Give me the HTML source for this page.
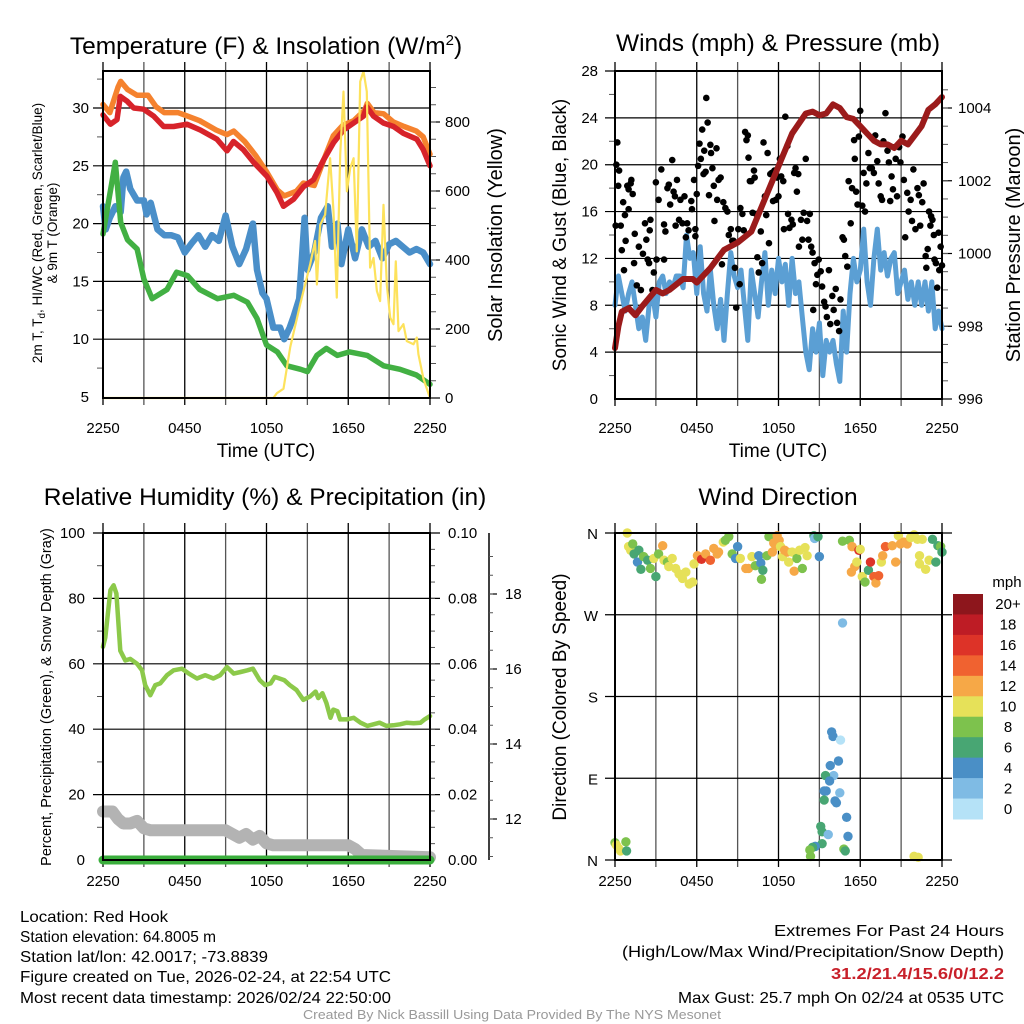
<!DOCTYPE html>
<html><head><meta charset="utf-8"><style>
html,body{margin:0;padding:0;background:#fff}
svg{display:block;font-family:"Liberation Sans",sans-serif}
</style></head><body>
<svg id="s" width="1024" height="1024" viewBox="0 0 1024 1024" xmlns="http://www.w3.org/2000/svg">
<g id="gTemp"></g>
<g id="gWind"></g>
<g id="gRH"></g>
<g id="gDir"></g>
<g font-size="16" fill="#000">
<text x="20" y="922" textLength="148" lengthAdjust="spacingAndGlyphs">Location: Red Hook</text>
<text x="20" y="942" textLength="196" lengthAdjust="spacingAndGlyphs">Station elevation: 64.8005 m</text>
<text x="20" y="962" textLength="248" lengthAdjust="spacingAndGlyphs">Station lat/lon: 42.0017; -73.8839</text>
<text x="20" y="982" textLength="371" lengthAdjust="spacingAndGlyphs">Figure created on Tue, 2026-02-24, at 22:54 UTC</text>
<text x="20" y="1003" textLength="371" lengthAdjust="spacingAndGlyphs">Most recent data timestamp: 2026/02/24 22:50:00</text>
</g>
<g font-size="16" fill="#000">
<text x="774" y="936" textLength="230" lengthAdjust="spacingAndGlyphs">Extremes For Past 24 Hours</text>
<text x="622" y="957" textLength="382" lengthAdjust="spacingAndGlyphs">(High/Low/Max Wind/Precipitation/Snow Depth)</text>
<text x="831" y="979" textLength="173" lengthAdjust="spacingAndGlyphs" fill="#c8202a" font-weight="bold">31.2/21.4/15.6/0/12.2</text>
<text x="678" y="1003" textLength="326" lengthAdjust="spacingAndGlyphs">Max Gust: 25.7 mph On 02/24 at 0535 UTC</text>
</g>
<text x="303" y="1019" textLength="418" lengthAdjust="spacingAndGlyphs" font-size="12.5" fill="#999">Created By Nick Bassill Using Data Provided By The NYS Mesonet</text>
</svg>
<script>
// ---------- DATA ----------
const xTickLabels = ["2250","0450","1050","1650","2250"];
// Temperature panel
const tRedT = [0,0.54,1.03,1.27,1.76,2.25,2.98,3.72,4.45,5.18,6.16,7.14,8.36,9.1,9.58,10.3,11.05,12.03,12.76,13.25,13.98,14.72,15.45,16.18,16.92,17.65,18.39,19.12,19.36,19.85,20.58,21.32,22.05,23.03,23.5,24];
const redT = [29.4,28.6,29,31,30.6,30,29.9,29.3,28.4,28.4,28.6,28.1,27.3,26.3,27.1,26.4,25.3,24.1,22.7,21.5,22.1,23.2,23.8,25.5,27,28.1,28.7,29.3,30.1,29.3,28.7,28.4,27.8,27.3,26.4,25];
const tOrange = [0,0.5,1.1,1.3,1.8,2.5,3.3,3.9,4.5,5.5,6.2,7.1,8.3,9.1,9.6,10.4,11.2,12,12.8,13.3,14.2,14.7,15.5,16.2,16.9,17.6,18.4,19.2,19.4,19.9,20.6,21.3,22.1,23,23.5,24];
const orangeT = [30.3,29.6,31.8,32.3,31.6,31.1,31.1,30.1,29.6,29.6,29.3,28.9,28.1,27.7,28,27.1,25.9,24.5,22.9,22.4,22.8,23.5,23.3,25.5,27.6,28.5,28.9,29.8,30.4,29.6,29.5,28.8,28.4,28,27.5,26];
const tDew = [0,0.9,1.3,1.8,2.5,3,3.6,4.7,5.4,6.2,7.1,8.4,9.6,10.6,11.3,12,12.8,13.5,14.5,15,15.7,16.4,17.2,18.1,19.4,20.6,21.8,23,24];
const dewT = [19.1,25.3,20.1,18.6,17.8,15.2,13.5,14.3,15.8,15.5,14.3,13.5,13.8,13.2,11.8,9.5,8.9,7.7,7.4,7.2,8.6,9.2,8.6,8.9,8.6,7.7,7.4,6.9,6.1];
const tChill = [0,0.2,0.5,0.9,1.3,1.5,1.7,2,2.5,3,3.2,3.5,4,4.5,5,5.5,6,6.5,7,7.5,8,8.5,9,9.5,10,10.5,11,11.3,11.7,12,12.5,13,13.3,13.7,14,14.4,14.8,15,15.5,16,16.5,16.8,17.2,17.5,18,18.5,19,19.5,20,20.5,21,21.5,22,22.5,23,23.5,24];
const chillT = [21.5,19.5,20.5,21.5,21,24,24.5,23,22,22,20.8,21.8,19.5,19,19,18.8,17.5,18.3,19,18,19,18.5,20.7,18,16.5,17.8,20,16,14,13.5,11,11,10,11,12,13.5,20.5,16,17.5,20.5,21.5,18,20,16.5,19.5,17,19.5,18,18.5,17,18.2,18.5,18,17.5,17.8,17.5,16.5];
const tSolar = [0,12.5,12.76,13.25,13.74,14.47,15.21,15.57,15.7,15.94,16.3,16.67,16.92,17.16,17.41,17.65,17.9,18.14,18.39,18.63,18.88,19.12,19.36,19.6,19.85,20.1,20.34,20.59,20.83,21.08,21.32,21.49,21.69,22.05,22.3,22.79,23.03,23.15,23.52,24];
const solar = [0,0,14,27,147,272,388,455,329,502,531,695,541,291,705,888,599,666,695,425,917,947,888,378,406,310,281,560,329,233,214,396,194,214,165,156,175,127,55,0];
// Wind panel
const tPres = [0,0.25,0.5,1,1.5,2,3,3.5,4,5,5.7,6,7,8,9,10,11,12,13,14,14.5,15,15.5,16,16.5,17,17.5,18,18.5,19,19.5,20,20.5,21,21.5,22,22.5,23,23.5,24];
const pres = [997.4,998,998.4,998.5,998.3,998.55,999,998.9,999,999.3,999.3,999.2,999.6,1000.1,1000.3,1000.6,1001.5,1002.4,1003.3,1003.85,1003.9,1003.8,1003.85,1004.1,1004,1003.75,1003.7,1003.5,1003.3,1003.1,1003,1003,1002.9,1003.1,1003,1003.25,1003.5,1003.95,1004.1,1004.3];
const windStep = 0.25; // hours between sonic wind samples
const wind = [8,10.5,9,7.5,9,10,8,6,7,5,8,9,7,10,10.5,9,10,9.5,10.5,10.5,9.5,14,12,12.5,9,13,9,7.5,11,8,6,8.5,5,9,12.5,10.5,9.5,11,8,5,11,9,7,10,12.5,8,11,9,12,10,11.5,8,12,9,10,7,4,2.5,6,4,6.5,2,5,4,5,3,1.5,7.5,4,9,12,10,11,14.5,10,8,12,14.5,11,12.5,10.5,12,12.5,9,10,11,8.5,10,8,10,8,10,7.5,10,6,7.5,6];
const tGust = [0.05,0.17,0.1,0.3,0.24,0.42,0.5,0.6,0.66,0.78,0.73,0.9,1.0,1.15,1.2,1.3,1.0,1.4,1.45,1.6,1.75,1.9,2.05,2.2,2.3,2.4,2.5,2.55,2.6,2.75,2.85,3,3.05,3.2,3.4,3.6,3.7,3.6,3.85,3.95,4.05,4.2,4.3,4.4,4.45,4.55,4.7,4.8,4.95,5.1,5.2,5.3,5.4,5.6,5.65,5.8,5.9,5.9,6,6.1,6.2,6.3,6.4,6.5,6.55,6.65,6.7,6.8,6.9,7,7.05,7.15,7.25,7.3,7.45,7.5,7.6,7.75,7.85,7.95,8.1,8.25,8.35,8.5,8.6,8.7,8.8,8.9,9.05,9.15,9.2,9.35,9.45,9.55,9.65,9.75,9.8,9.9,10,10.1,10.2,10.25,10.35,10.45,10.55,10.7,10.8,10.9,11,11.1,11.2,11.3,11.4,11.5,11.6,11.7,11.8,11.9,12,12.1,12.2,12.35,12.4,12.5,12.65,12.7,12.8,12.95,13.05,13.15,13.25,13.35,13.45,13.5,13.65,13.75,13.85,14,14.1,14.2,14.3,14.4,14.5,14.55,14.65,14.75,14.85,14.95,15.1,15.2,15.35,15.45,15.55,15.7,15.8,15.95,16.05,16.2,16.3,16.45,16.55,16.7,16.8,16.9,17.05,17.15,17.3,17.4,17.55,17.6,17.7,17.8,17.9,18,18.15,18.25,18.35,18.45,18.6,18.7,18.85,19,19.1,19.25,19.35,19.5,19.6,19.7,19.85,20,20.1,20.2,20.3,20.4,20.5,20.6,20.7,20.85,20.95,21.1,21.2,21.3,21.45,21.55,21.7,21.8,21.9,22.05,22.2,22.3,22.4,22.55,22.65,22.8,22.85,22.95,23.05,23.15,23.2,23.3,23.4,23.45,23.55,23.65,23.75,23.8,23.9,24];
const gust = [14.8,21.9,20,19.5,18.2,14.8,12.7,16.8,11,13.5,15.7,18.2,17.9,18.4,18.7,17.5,16.2,11.6,14.1,9.7,13,9.3,12.4,15,13.6,11.9,11.6,14.4,15.3,9.3,10.8,18.5,11.9,17,19.6,14.9,14.3,11.9,18,18.3,16.6,20.4,17.7,17.3,14.8,18.7,15.3,17,15,17.3,13.8,15,14.4,16.9,16.2,18.7,13.9,14.5,17.5,19.9,21.8,20.5,23,19.2,21.2,19.4,25.7,23.6,17.4,21.7,21,19.7,18.2,15.2,21.4,17,18.7,18.9,11.5,16.8,16.3,16,14,14.5,13.5,13.5,11.2,7.8,14.5,9.8,16.3,15.8,14.4,22.8,22.1,22.5,20.6,18.6,18.6,15.9,19.5,18.9,15.8,12.1,10.8,14.3,11.6,21.9,17.3,15.7,21,13.3,19.2,19.3,16.9,19.5,17,18.9,17.3,20.5,19,18.6,14.5,24.1,21.6,15.8,14.6,15.3,14.9,19.3,19.7,17.7,19.2,13,15.3,13.6,15.9,20.5,15.2,13.6,15.8,13,12.5,7.6,11.6,9.8,10.6,11.9,10.9,9.6,8.3,7.9,7,11,6.4,8.8,7.6,9.4,6.5,5.8,8.5,13.8,13.6,12.2,11.3,18.6,15,18,22.1,20.5,17.7,16.6,22.4,24.6,16.5,19.3,16,18.4,21,19.7,19.7,19.3,22.5,20.3,18.4,17.3,17,22,24.4,21.2,20.2,16.9,19,17.9,21.5,20.5,17.3,21.5,20.2,22.4,18.7,13.8,17.6,16,17,15.2,19.6,14.5,18,17.4,14.8,16.8,18.4,12.2,11.2,12.8,16,14.8,15.6,15.3,14,11.9,11.6,9.5,14.2,11,13,11.4];
// RH panel
const tRH = [0,0.17,0.54,0.78,0.98,1.27,1.64,2,2.5,2.86,3.1,3.47,3.84,4.2,4.7,5.18,5.8,6.3,6.9,7.5,8.1,8.6,9.1,9.6,10.1,10.6,11,11.5,11.9,12.3,12.6,13.3,13.7,14.2,14.7,15.2,15.6,15.8,16.1,16.4,16.7,16.9,17.2,17.4,17.9,18.4,18.9,19.4,19.85,20.3,20.8,21.3,21.8,22.3,22.8,23.3,23.6,24];
const rh = [65.2,68,82.5,84,81.5,64,61,61.5,60,58,53.5,50.4,53.5,54,56.5,58,58.5,57,55.5,56.5,55.5,56.5,59,57,57.5,58,58.5,55,53.5,54,56,55,53.5,52,49,50,51.5,49.5,51,48,43.5,46,45.5,43,43,43.5,42,41,41.5,42,41,41.2,41.5,42,41.8,42,43,44];
const tSnow = [0,0.7,1.1,1.5,2,2.5,3,3.5,9,9.5,10,10.5,11,11.5,12,12.5,18,18.5,19,24];
const snow = [12.2,12.2,12.0,11.88,11.88,11.95,11.75,11.7,11.7,11.6,11.5,11.6,11.45,11.55,11.35,11.3,11.3,11.2,11.04,10.98];
const tPrecip = [0,24];
const precip = [0,0];
// Direction panel
const tDir = [0.9,1.0,1.15,1.3,1.4,1.65,1.75,1.9,2.1,2.4,2.6,2.85,3.0,3.2,3.5,3.6,3.85,3.95,4.2,4.45,4.7,4.95,5.2,5.45,5.7,5.8,6.05,6.35,6.65,7.0,7.25,7.5,7.6,7.95,8.1,8.35,8.6,8.85,9.0,9.2,9.6,9.8,10.05,10.3,10.55,10.7,10.75,10.85,11.15,11.3,11.55,11.65,11.8,11.9,12.05,12.15,12.3,12.45,12.65,12.75,13.0,13.15,13.35,13.55,13.75,13.95,14.1,14.6,14.65,14.9,15.0,16.7,17.2,17.4,17.9,18.0,17.6,17.35,17.75,18.15,18.35,18.6,18.75,19.0,19.15,19.35,19.55,19.65,19.85,20.35,20.6,20.8,20.95,21.2,21.45,21.7,21.95,22.2,22.35,22.55,22.8,23.05,23.3,23.55,23.7,23.9,24.0,22.35,
 0.0,0.1,0.25,0.4,0.8,0.85,15.9,16.0,16.55,16.4,15.8,16.05,15.45,15.75,15.5,15.35,16.5,15.35,16.15,16.25,17.0,15.1,15.2,15.65,17.1,15.2,14.7,14.5,14.3,14.35,16.8,16.9,16.7,21.95,22.25];
const dirDeg = [360,345,341,348,337,328,341,320,334,330,321,332,312,337,346,330,328,323,332,321,315,310,317,304,306,326,335,331,337,330,343,337,339,350,352,356,337,332,345,332,321,321,334,324,335,327,309,319,335,356,339,349,346,357,352,345,334,341,339,328,339,318,332,341,321,344,335,357,354,356,334,351,352,345,341,342,323,317,328,312,306,319,328,312,305,313,328,335,345,346,328,357,348,350,348,355,358,353,335,353,320,330,353,328,346,345,339,326,
 19,16.5,13,10,20,10,141,136,132,109,104,93,93,87,76,76,74,66,65,63,47,37,31,28,26,18,15,14,11,4,12,10,261,4,3];
const dirSpeed = [10,10,10,8,6,4,6,6,8,6,8,10,6,8,12,10,8,10,10,10,10,10,10,10,10,10,12,16,12,14,12,12,12,10,8,8,8,4,4,10,12,12,10,8,4,4,8,6,8,8,12,12,12,12,12,10,10,12,12,10,10,12,8,10,8,10,10,6,2,6,4,8,8,12,16,10,12,12,10,10,8,6,16,14,12,14,10,12,14,12,12,10,12,12,12,10,10,10,10,10,10,10,6,6,6,8,6,10,
 8,10,10,10,8,6,4,4,0,4,4,2,6,4,4,4,2,6,4,4,4,6,6,2,4,6,4,6,8,8,8,6,2,10,10];
const speedBins = ["0","2","4","6","8","10","12","14","16","18","20+"];
const speedColors = ["#b5e2f7","#7fbbe4","#4a8fc6","#48a673","#7dc24d","#e6e159","#f6a847","#f06230","#dd3328","#be1c25","#8d161c"];

// ---------- HELPERS ----------
const NS="http://www.w3.org/2000/svg";
function el(parent, tag, attrs, text){
  const e=document.createElementNS(NS,tag);
  for(const k in attrs) e.setAttribute(k,attrs[k]);
  if(text!==undefined) e.textContent=text;
  parent.appendChild(e); return e;
}
function lin(d0,d1,r0,r1){return v=>r0+(v-d0)/(d1-d0)*(r1-r0);}
function pathOf(ts,vs,xs,ys){return ts.map((t,i)=>(i?"L":"M")+xs(t).toFixed(1)+","+ys(vs[i]).toFixed(1)).join("");}

function frame(g, X0,X1,Y0,Y1, xLabelsY){
  const xs=lin(0,24,X0,X1);
  for(let h=0;h<=24;h+=3){
    const x=xs(h);
    const ln=el(g,"line",{x1:x,y1:Y0-9,x2:x,y2:Y1+7,stroke:(h%6===0)?"#000":"#555","stroke-width":1.3});
    
    
  }
  xTickLabels.forEach((lab,i)=>{
    const t=el(g,"text",{x:xs(i*6),y:xLabelsY,"text-anchor":"middle","font-size":15},lab);
    
    
  });
  return xs;
}
function hgrid(g,X0,X1,ys,vals,left,right){
  vals.forEach(v=>{
    const ln=el(g,"line",{x1:X0-(left?10:0),y1:ys(v),x2:X1+(right?10:0),y2:ys(v),stroke:"#000","stroke-width":1.2});
    
    
  });
}
function minorTicks(g,x,dir,ys,from,to,step,len){
  for(let v=from; v<=to+1e-9; v+=step){
    el(g,"line",{x1:x,y1:ys(v),x2:x+dir*len,y2:ys(v),stroke:"#555","stroke-width":1});
  }
}
function box(g,X0,X1,Y0,Y1){
  const r=el(g,"rect",{x:X0,y:Y0,width:X1-X0,height:Y1-Y0,fill:"none",stroke:"#000","stroke-width":2});
  
  
}
function label(g,x,y,txt,anchor,size,name){
  const t=el(g,"text",{x:x,y:y,"text-anchor":anchor,"font-size":size||15},txt);
  
  
  return t;
}
function vtitle(g,x,y,txt,size,name){
  const t=el(g,"text",{x:0,y:0,"text-anchor":"middle","font-size":size,transform:`translate(${x},${y}) rotate(-90)`},txt);
  
  
  return t;
}

// ---------- TEMPERATURE PANEL ----------
(function(){
  const g=document.getElementById("gTemp");
  const X0=103,X1=430,Y0=71,Y1=398;
  const tt=el(g,"text",{x:266,y:54,"text-anchor":"middle","font-size":24.5});
  
  
  tt.innerHTML='Temperature (F) &amp; Insolation (W/m<tspan font-size="15" dy="-9">2</tspan><tspan dy="9">)</tspan>';
  const xs=frame(g,X0,X1,Y0,Y1,433);
  const ys=lin(5,30,397,108);
  const ysS=lin(0,800,398,122);
  hgrid(g,X0,X1,ys,[10,15,20,25,30],true,false);
  minorTicks(g,X0,-1,ys,7.5,32.5,5,6);
  [0,200,400,600,800].forEach(v=>{el(g,"line",{x1:X1,y1:ysS(v),x2:X1+10,y2:ysS(v),stroke:"#000","stroke-width":1.2});label(g,X1+15,ysS(v)+5,String(v),"start");});
  minorTicks(g,X1,1,ysS,50,900,50,6);
  [5,10,15,20,25,30].forEach(v=>label(g,X0-14,ys(v)+5,String(v),"end"));
  label(g,266,457,"Time (UTC)","middle",19,"x-axis-title");
  const t1=vtitle(g,42,233,"",13.5,"temperature-axis-title");
  t1.innerHTML='2m T, T<tspan font-size="10" dy="3">d</tspan><tspan dy="-3">, HI/WC (Red, Green, Scarlet/Blue)</tspan>';
  vtitle(g,57,233,"& 9m T (Orange)",13.5,"temperature-axis-title-2");
  vtitle(g,502,235,"Solar Insolation (Yellow)",20,"solar-axis-title");
  const clip=el(g,"clipPath",{id:"cT"}); el(clip,"rect",{x:X0-4,y:Y0-8,width:X1-X0+8,height:Y1-Y0+12});
  const d=el(g,"g",{"clip-path":"url(#cT)",fill:"none","stroke-linejoin":"round","stroke-linecap":"round"});
  let p;
  p=el(d,"path",{d:pathOf(tChill,chillT,xs,ys),stroke:"#4a8fc9","stroke-width":6.5});
   
  p=el(d,"path",{d:pathOf(tDew,dewT,xs,ys),stroke:"#42b043","stroke-width":5.5});
   
  p=el(d,"path",{d:pathOf(tOrange,orangeT,xs,ys),stroke:"#f5822e","stroke-width":5.5});
   
  p=el(d,"path",{d:pathOf(tRedT,redT,xs,ys),stroke:"#d7232a","stroke-width":5.5});
   
  p=el(d,"path",{d:pathOf(tSolar,solar,xs,ysS),stroke:"#fde25c","stroke-width":2.2});
   
  box(g,X0,X1,Y0,Y1);
})();

// ---------- WIND PANEL ----------
(function(){
  const g=document.getElementById("gWind");
  const X0=615,X1=942,Y0=71,Y1=399;
  label(g,778,51,"Winds (mph) & Pressure (mb)","middle",24.5,"wind-title");
  const xs=frame(g,X0,X1,Y0,Y1,433);
  const ys=lin(0,28,399,71);
  const ysP=lin(996,1004,399,108);
  hgrid(g,X0,X1,ys,[4,8,12,16,20,24,28],true,false);
  minorTicks(g,X0,-1,ys,2,26,4,6);
  [0,4,8,12,16,20,24,28].forEach(v=>label(g,X0-17,ys(v)+5,String(v),"end"));
  [996,998,1000,1002,1004].forEach(v=>{el(g,"line",{x1:X1,y1:ysP(v),x2:X1+10,y2:ysP(v),stroke:"#000","stroke-width":1.2});label(g,X1+16,ysP(v)+5,String(v),"start");});
  minorTicks(g,X1,1,ysP,996.5,1004.5,0.5,6);
  label(g,778,457,"Time (UTC)","middle",19,"x-axis-title");
  vtitle(g,566,235,"Sonic Wind & Gust (Blue, Black)",19,"wind-axis-title");
  vtitle(g,1020,245,"Station Pressure (Maroon)",20,"pressure-axis-title");
  const d=el(g,"g",{fill:"none","stroke-linejoin":"round","stroke-linecap":"round"});
  const tw=wind.map((v,i)=>i*windStep);
  let p=el(d,"path",{d:pathOf(tw,wind,xs,ys),stroke:"#5b9fd4","stroke-width":5});
   
  gust.forEach((v,i)=>{
    const c=el(d,"circle",{cx:xs(tGust[i]),cy:ys(v),r:3.3,fill:"#000"});
    
    
  });
  p=el(d,"path",{d:pathOf(tPres,pres,xs,ysP),stroke:"#9b1b1b","stroke-width":6});
   
  box(g,X0,X1,Y0,Y1);
})();

// ---------- RH PANEL ----------
(function(){
  const g=document.getElementById("gRH");
  const X0=103,X1=430,Y0=533,Y1=860;
  label(g,265,505,"Relative Humidity (%) & Precipitation (in)","middle",24.5,"humidity-title");
  const xs=frame(g,X0,X1,Y0-1,Y1,886);
  const ys=lin(0,100,860,533);
  const ysPr=lin(0,0.1,860,533);
  const ysSn=lin(12,18,819,594);
  hgrid(g,X0,X1,ys,[20,40,60,80,100],true,true);
  minorTicks(g,X0,-1,ys,10,90,20,6);
  minorTicks(g,X1,1,ys,5,95,5,5);
  [0,20,40,60,80,100].forEach(v=>label(g,X0-18,ys(v)+5,String(v),"end"));
  ["0.00","0.02","0.04","0.06","0.08","0.10"].forEach((s,i)=>label(g,X1+18,ysPr(i*0.02)+5,s,"start"));
  el(g,"line",{x1:489,y1:533,x2:489,y2:860,stroke:"#000","stroke-width":1.5});
  [12,14,16,18].forEach(v=>{el(g,"line",{x1:489,y1:ysSn(v),x2:497,y2:ysSn(v),stroke:"#000","stroke-width":1.2});label(g,505,ysSn(v)+5,String(v),"start");});
  minorTicks(g,489,1,ysSn,11,19,0.5,4);
  vtitle(g,51,697,"Percent, Precipitation (Green), & Snow Depth (Gray)",14.5,"humidity-axis-title");
  const d=el(g,"g",{fill:"none","stroke-linejoin":"round","stroke-linecap":"round"});
  let p=el(d,"path",{d:pathOf(tSnow,snow,xs,ysSn),stroke:"#b3b3b3","stroke-width":12});
   
  p=el(d,"path",{d:pathOf(tPrecip,precip,xs,ysPr),stroke:"#3aae3c","stroke-width":9});
   
  p=el(d,"path",{d:pathOf(tRH,rh,xs,ys),stroke:"#8cc94a","stroke-width":4.5});
   
  box(g,X0,X1,Y0,Y1);
})();

// ---------- DIRECTION PANEL ----------
(function(){
  const g=document.getElementById("gDir");
  const X0=615,X1=942,Y0=533,Y1=860;
  label(g,778,505,"Wind Direction","middle",24.5,"direction-title");
  const xs=frame(g,X0,X1,Y0-1,Y1,886);
  const ys=lin(0,360,860,533);
  hgrid(g,X0,X1,ys,[0,90,180,270,360],true,true);
  ["N","E","S","W","N"].forEach((s,i)=>label(g,X0-17,ys(i*90)+6,s,"end",15,"direction-tick-label"));
  vtitle(g,566,697,"Direction (Colored By Speed)",19,"direction-axis-title");
  const d=el(g,"g",{});
  tDir.forEach((t,i)=>{
    const bin=Math.min(10,Math.floor(dirSpeed[i]/2));
    const c=el(d,"circle",{cx:xs(t),cy:ys(dirDeg[i]),r:4.7,fill:speedColors[bin]});
    
    
  });
  const cb=el(g,"g",{});
  
  
  label(cb,1007,587,"mph","middle",15,"colorbar-title");
  const bh=(819-594)/speedBins.length;
  speedBins.forEach((s,i)=>{
    const k=speedBins.length-1-i;
    const r=el(cb,"rect",{x:953,y:594+i*bh,width:30,height:bh+0.5,fill:speedColors[k]});
    
    
    label(cb,1008,594+i*bh+bh/2+5,speedBins[k],"middle",15,"colorbar-label");
  });
  box(g,X0,X1,Y0,Y1);
})();
</script>
</body></html>
